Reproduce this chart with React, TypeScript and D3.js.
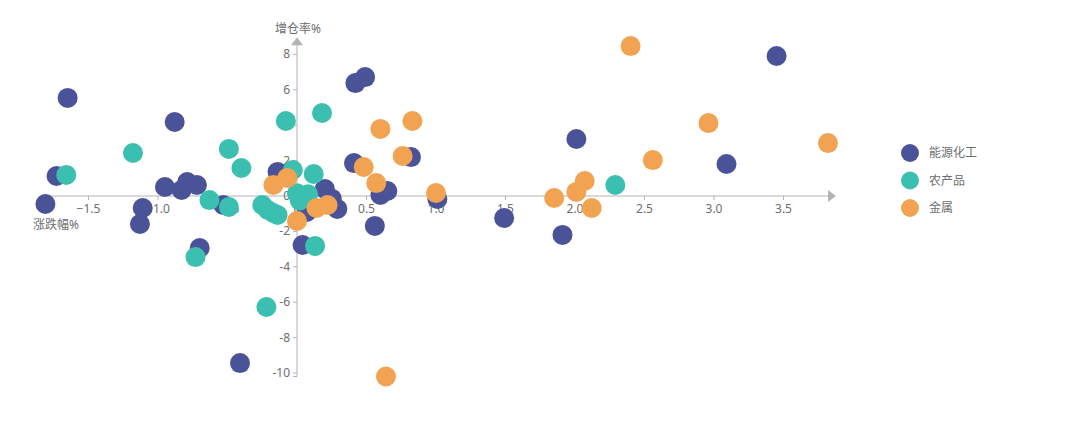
import React from "react";
import * as d3 from "d3";

const seriesNames = ["能源化工", "农产品", "金属"];
const seriesColors = ["#4b5398", "#3bbfb0", "#f2a352"];

// [涨跌幅%, 增仓率%]
const energyChem: [number, number][] = [
  [-1.81, -0.45], [-1.73, 1.13], [-1.65, 5.54], [-1.11, -0.68], [-1.13, -1.58],
  [-0.95, 0.51], [-0.88, 4.18], [-0.83, 0.34], [-0.79, 0.79], [-0.72, 0.62],
  [-0.7, -2.94], [-0.53, -0.51], [-0.41, -9.44], [-0.14, 1.36], [0.04, -2.77],
  [0.2, 0.4], [0.25, -0.15], [0.29, -0.73], [0.07, -0.9], [0.42, 6.38],
  [0.49, 6.72], [0.41, 1.86], [0.56, -1.69], [0.6, 0.06], [0.65, 0.28],
  [0.82, 2.2], [1.01, -0.17], [1.49, -1.24], [1.91, -2.2], [2.01, 3.22],
  [3.09, 1.81], [3.45, 7.91],
];
const agri: [number, number][] = [
  [-1.66, 1.19], [-1.18, 2.43], [-0.73, -3.45], [-0.63, -0.23], [-0.49, 2.66],
  [-0.49, -0.62], [-0.4, 1.58], [-0.25, -0.51], [-0.21, -0.79], [-0.17, -0.96],
  [-0.14, -1.07], [-0.22, -6.27], [-0.08, 4.24], [-0.03, 1.47], [0.12, 1.24],
  [0.18, 4.69], [0.0, 0.15], [0.08, 0.1], [0.02, -0.25], [0.13, -2.82],
  [2.29, 0.62],
];
const metals: [number, number][] = [
  [-0.17, 0.62], [-0.07, 1.02], [0.0, -1.41], [0.14, -0.68], [0.22, -0.51],
  [0.48, 1.64], [0.57, 0.73], [0.6, 3.79], [0.76, 2.26], [0.83, 4.24],
  [0.64, -10.2], [1.0, 0.17], [1.85, -0.11], [2.01, 0.23], [2.07, 0.85],
  [2.12, -0.68], [2.4, 8.47], [2.56, 2.03], [2.96, 4.12], [3.82, 2.99],
];
const allSeries = [energyChem, agri, metals];

const xTicks = [-1.5, -1.0, -0.5, 0, 0.5, 1.0, 1.5, 2.0, 2.5, 3.0, 3.5];
const yTicks = [8, 6, 4, 2, 0, -2, -4, -6, -8, -10];
const xName = "涨跌幅%";
const yName = "增仓率%";

const W = 1080;
const H = 442;
const FONT = "'Noto Sans', 'Noto Sans CJK SC', sans-serif";

export default function App() {
  const all = allSeries.flat();
  const xExt = d3.extent(all, (d) => d[0]) as [number, number];
  const yExt = d3.extent(all, (d) => d[1]) as [number, number];
  const originX = 297;
  const originY = 196;
  const kx = 139;
  const ky = 17.7;
  const x = d3.scaleLinear().domain(xExt).range([originX + xExt[0] * kx, originX + xExt[1] * kx]);
  const y = d3.scaleLinear().domain([yExt[0], 8.58]).range([originY - yExt[0] * ky, originY - 8.58 * ky]);
  const x0 = x(0);
  const y0 = y(0);
  const axisColor = "#b4b4b4";
  const textColor = "#6e6e6e";
  const fmtX = (v: number) => (v === 0 ? "0" : d3.format(".1f")(v));
  const [xl, xr] = x.range();
  const [yb, yt] = y.range();
  const r = 10;

  return (
    <svg width={W} height={H} style={{ position: "absolute", left: 0, top: 0, display: "block" }} fontFamily={FONT}>
      <rect width={W} height={H} fill="#fff" />
      {/* x axis */}
      <line x1={xl} x2={xr} y1={y0} y2={y0} stroke={axisColor} />
      <path d={`M${xr},${y0 - 6}L${xr + 8},${y0}L${xr},${y0 + 6}Z`} fill={axisColor} />
      {xTicks.map((t) => (
        <g key={"xt" + t}>
          <line x1={x(t)} x2={x(t)} y1={y0} y2={y0 + 4} stroke={axisColor} />
          <text x={x(t)} y={y0 + 17} textAnchor="middle" fontSize={12} fill={textColor}>
            {fmtX(t)}
          </text>
        </g>
      ))}
      <text x={33} y={y0 + 33} fontSize={12} fill={textColor}>{xName}</text>
      {/* y axis */}
      <line x1={x0} x2={x0} y1={yb} y2={yt} stroke={axisColor} />
      <line x1={x0 - 4} x2={x0} y1={yb} y2={yb} stroke={axisColor} />
      <path d={`M${x0 - 6},${yt + 1}L${x0},${yt - 7}L${x0 + 6},${yt + 1}Z`} fill={axisColor} />
      {yTicks.map((t) => (
        <g key={"yt" + t}>
          <line x1={x0 - 4} x2={x0} y1={y(t)} y2={y(t)} stroke={axisColor} />
          <text x={x0 - 7} y={y(t) + 4} textAnchor="end" fontSize={12} fill={textColor}>
            {t}
          </text>
        </g>
      ))}
      <text x={x0 + 1} y={33} textAnchor="middle" fontSize={12} fill={textColor}>{yName}</text>
      {/* points */}
      {allSeries.map((s, si) => (
        <g key={"s" + si}>
          {s.map((d, i) => (
            <circle key={i} cx={x(d[0])} cy={y(d[1])} r={r} fill={seriesColors[si]} />
          ))}
        </g>
      ))}
      {/* legend */}
      {seriesNames.map((n, i) => (
        <g key={"lg" + i} transform={`translate(910,${153 + i * 27.5})`}>
          <circle r={9} fill={seriesColors[i]} />
          <text x={19} y={4} fontSize={12} fill={textColor}>{n}</text>
        </g>
      ))}
    </svg>
  );
}
